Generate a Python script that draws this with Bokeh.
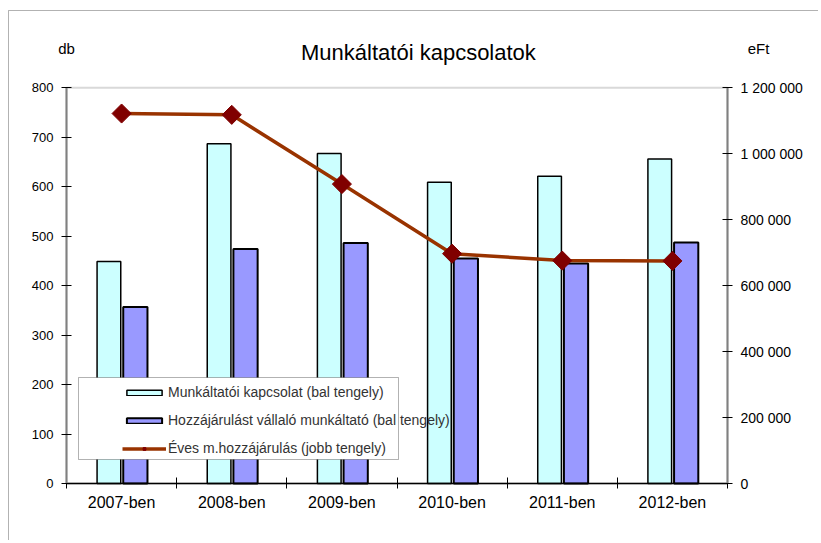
from bokeh.plotting import figure
from bokeh.models import (Range1d, LinearAxis, FixedTicker, Legend, LegendItem,
                          BoxAnnotation, Label, ColumnDataSource)
from bokeh.embed import file_html
from bokeh.resources import INLINE
import math

categories = ["2007-ben", "2008-ben", "2009-ben", "2010-ben", "2011-ben", "2012-ben"]
kapcsolat = [449, 687, 667, 609, 621, 656]
vallalo = [357, 474, 486, 455, 445, 487]
hozzajarulas = [1122000, 1118000, 908000, 697000, 676000, 675000]
left_ticks = [0, 100, 200, 300, 400, 500, 600, 700, 800]
right_ticks = [0, 200000, 400000, 600000, 800000, 1000000, 1200000]
LEFT_MAX = 800
RIGHT_MAX = 1200000

FONT = "Liberation Sans"
n = len(categories)
centers = [i + 0.5 for i in range(n)]

# layout (canvas pixels): the frame covers the whole canvas, the plot area sits inside
W, H = 818, 540
PA_L, PA_R, PA_T, PA_B = 66, 727, 87.3, 483.0
sx = (PA_R - PA_L) / n
sy = (PA_B - PA_T) / LEFT_MAX
x0 = -PA_L / sx
x1 = n + (W - PA_R) / sx
y0 = -(H - PA_B) / sy
y1 = LEFT_MAX + PA_T / sy
k = RIGHT_MAX / LEFT_MAX

src = ColumnDataSource(dict(
    xc=centers,
    x1=[c - 0.115 for c in centers],
    x2=[c + 0.125 for c in centers],
    k=kapcsolat, v=vallalo, h=hozzajarulas,
))

p = figure(frame_width=W, frame_height=H, min_border_left=0, min_border_right=0,
           min_border_top=0, min_border_bottom=0,
           x_range=Range1d(x0, x1), y_range=Range1d(y0, y1),
           output_backend="svg", toolbar_location=None, tools="")
p.title_location = None
p.extra_y_ranges = {"right": Range1d(y0 * k, y1 * k)}
p.xgrid.visible = False
p.ygrid.visible = False
p.outline_line_color = None
p.background_fill_color = "white"
p.border_fill_color = "white"

# outer chart border (left and top edges visible)
p.add_layout(BoxAnnotation(left=8, right=3000, top=H - 10, bottom=-3000,
                           left_units="screen", right_units="screen",
                           top_units="screen", bottom_units="screen",
                           fill_alpha=0, line_color="black", line_width=1,
                           level="underlay"))
# plot-area border
p.add_layout(BoxAnnotation(left=0, right=n, bottom=0, top=LEFT_MAX,
                           fill_alpha=0, line_color="#808080", line_width=2,
                           level="underlay"))

r1 = p.vbar(x="x1", top="k", width=0.215, source=src, fill_color="#CCFFFF",
            line_color="black", line_width=1.5)
r2 = p.vbar(x="x2", top="v", width=0.22, source=src, fill_color="#9999FF",
            line_color="black", line_width=2)
r3 = p.line(x="xc", y="h", source=src, y_range_name="right", line_color="#993300",
            line_width=3.5)
r4 = p.scatter(x="xc", y="h", source=src, y_range_name="right", marker="square",
               angle=math.pi / 4, size=13.5, fill_color="#800000", line_color="#800000")

# x axis
xa = p.xaxis[0]
xa.fixed_location = 0
xa.bounds = (0, n)
xa.ticker = FixedTicker(ticks=centers, minor_ticks=list(range(n + 1)))
xa.major_label_overrides = {c: lab for c, lab in zip(centers, categories)}
xa.major_tick_line_color = None
xa.major_tick_out = 5
xa.major_tick_in = 0
xa.minor_tick_in = 6
xa.minor_tick_out = 5
xa.minor_tick_line_color = "black"
xa.axis_line_color = "black"
xa.axis_line_width = 1.5
xa.major_label_standoff = 5
xa.major_label_text_font = FONT
xa.major_label_text_font_size = "16px"
xa.major_label_text_color = "black"

# left axis
ya = p.yaxis[0]
ya.fixed_location = 0
ya.bounds = (0, LEFT_MAX)
ya.ticker = FixedTicker(ticks=left_ticks)
ya.major_tick_in = 5
ya.major_tick_out = 5
ya.minor_tick_line_color = None
ya.axis_line_color = "#808080"
ya.axis_line_width = 2
ya.major_label_standoff = 8
ya.major_label_text_font = FONT
ya.major_label_text_font_size = "13px"
ya.major_label_text_color = "black"

# right axis
ra = LinearAxis(y_range_name="right", ticker=FixedTicker(ticks=right_ticks),
                fixed_location=n, bounds=(0, RIGHT_MAX))
ra.major_label_overrides = {t: f"{t:,}".replace(",", " ") for t in right_ticks}
ra.major_tick_in = 5
ra.major_tick_out = 5
ra.minor_tick_line_color = None
ra.axis_line_color = "#808080"
ra.axis_line_width = 2
ra.major_label_standoff = 8
ra.major_label_text_font = FONT
ra.major_label_text_font_size = "14px"
ra.major_label_text_color = "black"
p.add_layout(ra, "right")

# legend box
p.add_layout(BoxAnnotation(left=78, right=398, top=H - 377, bottom=H - 459,
                           left_units="screen", right_units="screen",
                           top_units="screen", bottom_units="screen",
                           fill_color="white", fill_alpha=1, line_color="black",
                           line_width=1))

legend = Legend(items=[
    LegendItem(label="Munkáltatói kapcsolat (bal tengely)", renderers=[r1]),
    LegendItem(label="Hozzájárulást vállaló munkáltató (bal tengely)", renderers=[r2]),
    LegendItem(label="Éves m.hozzájárulás (jobb tengely)", renderers=[r3, r4]),
], location=(117, H - 463), padding=5, spacing=8, glyph_width=44, glyph_height=7,
    label_height=20, label_standoff=2, label_text_font=FONT,
    label_text_font_size="14px", label_text_color="#333333",
    background_fill_alpha=0, border_line_alpha=0, margin=0)
p.add_layout(legend)

# title and unit labels
p.add_layout(Label(x=421, y=H - 52, x_units="screen", y_units="screen",
                   text="Munkáltatói  kapcsolatok", text_align="center",
                   text_baseline="middle", text_font=FONT, text_font_size="22px",
                   text_color="black"))
for txt, xs in (("db", 66), ("eFt", 758)):
    p.add_layout(Label(x=xs, y=H - 47.5, x_units="screen", y_units="screen", text=txt,
                       text_align="center", text_baseline="middle", text_font=FONT,
                       text_font_size="15px", text_color="black"))

open("out.html", "w").write(file_html(p, INLINE))
